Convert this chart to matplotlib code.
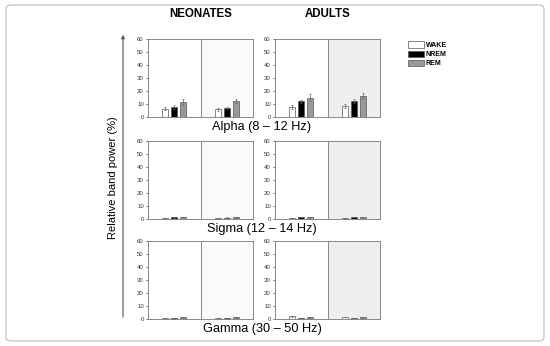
import numpy as np
import matplotlib.pyplot as plt
from matplotlib.patches import FancyBboxPatch, Patch

plt.rcParams['font.family'] = ['Liberation Sans', 'DejaVu Sans']

# data (% relative band power), per band: [group][condition half][state]
states = ['WAKE', 'NREM', 'REM']
state_colors = ['white', 'black', '#999999']
bands = ['Alpha (8 \u2013 12 Hz)', 'Sigma (12 \u2013 14 Hz)', 'Gamma (30 \u2013 50 Hz)']
groups = ['NEONATES', 'ADULTS']

alpha_neo = [[6.5, 8.0, 11.5], [6.0, 7.0, 12.0]]
alpha_neo_err = [[1.0, 1.5, 2.0], [1.0, 1.0, 1.5]]
alpha_adu = [[8.0, 12.0, 15.0], [8.5, 12.0, 16.0]]
alpha_adu_err = [[1.5, 1.0, 2.5], [1.5, 1.5, 2.5]]
sigma_neo = [[0.8, 1.3, 1.5], [0.6, 1.0, 1.2]]
sigma_neo_err = [[0.2, 0.2, 0.3], [0.2, 0.2, 0.3]]
sigma_adu = [[0.8, 1.6, 1.2], [0.7, 1.6, 1.2]]
sigma_adu_err = [[0.2, 0.3, 0.3], [0.2, 0.3, 0.3]]
gamma_neo = [[0.8, 0.4, 1.5], [0.7, 0.4, 1.2]]
gamma_neo_err = [[0.2, 0.1, 0.4], [0.2, 0.1, 0.3]]
gamma_adu = [[2.0, 0.6, 1.2], [1.6, 0.5, 1.2]]
gamma_adu_err = [[0.4, 0.1, 0.3], [0.3, 0.1, 0.3]]

values = [[alpha_neo, alpha_adu], [sigma_neo, sigma_adu], [gamma_neo, gamma_adu]]
errors = [[alpha_neo_err, alpha_adu_err], [sigma_neo_err, sigma_adu_err],
          [gamma_neo_err, gamma_adu_err]]

W, H = 550, 346
fig = plt.figure(figsize=(5.5, 3.46), dpi=100)

# outer frame
fig.patches.append(FancyBboxPatch((6 / W, 5 / H), 538 / W, 336 / H,
                                  boxstyle='round,pad=0,rounding_size=0.01',
                                  transform=fig.transFigure, fc='white',
                                  ec='#bbbbbb', lw=0.8, zorder=-10))

col_left = [148, 275]
ax_w = 105
row_top = [39, 141, 241]
ax_h = 78
shade = ['#fafafa', '#efefef']
gray = '#888888'

bw = 0.11
step = 0.17
for r in range(3):
    for c in range(2):
        ax = fig.add_axes([col_left[c] / W, 1 - (row_top[r] + ax_h) / H,
                           ax_w / W, ax_h / H])
        ax.axvspan(1, 2, color=shade[c], zorder=0)
        ax.axvline(1, color=gray, lw=0.7)
        for half in range(2):
            centre = half + 0.5
            for s in range(3):
                x = centre + (s - 1) * step
                ax.bar(x, values[r][c][half][s], width=bw,
                       color=state_colors[s], edgecolor='#555555', lw=0.5,
                       yerr=errors[r][c][half][s],
                       error_kw=dict(ecolor='#666666', elinewidth=0.5,
                                     capsize=1, capthick=0.5),
                       zorder=3)
        ax.set_xlim(0, 2)
        ax.set_ylim(0, 60)
        ax.set_yticks(range(0, 61, 10))
        ax.set_xticks([])
        ax.tick_params(axis='y', labelsize=4.3, length=1.5, width=0.5,
                       colors='#333333', pad=1.5)
        for sp in ax.spines.values():
            sp.set_color(gray)
            sp.set_linewidth(0.7)
    fig.text(262 / W, 1 - (row_top[r] + ax_h + 10) / H, bands[r],
             ha='center', va='center', fontsize=9.2)

for c in range(2):
    fig.text((col_left[c] + ax_w / 2) / W, 1 - 14 / H, groups[c],
             ha='center', va='center', fontsize=8.3, fontweight='bold')

# y axis arrow + label
fig.add_artist(plt.Annotation('', xy=(123 / W, 1 - 32 / H), xytext=(123 / W, 1 - 320 / H),
                              xycoords='figure fraction', textcoords='figure fraction',
                              arrowprops=dict(arrowstyle='-|>', color='#555555', lw=0.8,
                                              mutation_scale=5)))
fig.text(113 / W, 1 - 178 / H, 'Relative band power (%)', rotation=90,
         ha='center', va='center', fontsize=8)

handles = [Patch(facecolor=col, edgecolor='#555555', lw=0.5) for col in state_colors]
leg = fig.legend(handles, states, loc='upper left', bbox_to_anchor=(405 / W, 1 - 38 / H),
                 frameon=False, prop=dict(size=5, weight='bold'), handlelength=2.2,
                 handleheight=1.0, labelspacing=0.25, handletextpad=0.3, borderpad=0)

fig.savefig('out.png', dpi=100)
